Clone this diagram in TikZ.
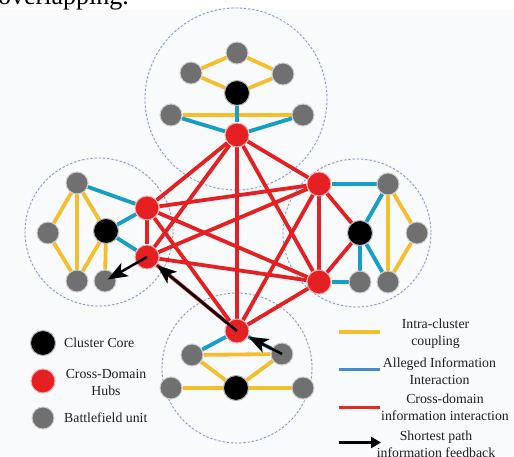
\documentclass[tikz,border=0pt]{standalone}
\usepackage{fontspec}
\setmainfont{Liberation Serif}
\usetikzlibrary{arrows.meta}
\definecolor{ured}{RGB}{228,32,34}
\definecolor{ugray}{RGB}{112,112,112}
\definecolor{uyellow}{RGB}{244,190,44}
\definecolor{ublue}{RGB}{22,158,196}
\definecolor{lblue}{RGB}{70,140,205}
\definecolor{cblue}{RGB}{95,165,215}
\definecolor{bgpale}{RGB}{249,250,252}
\pgfdeclarelayer{bg}
\pgfdeclarelayer{edges}
\pgfsetlayers{bg,edges,main}
\tikzset{
  gnode/.style={circle,fill=ugray,draw=ugray!35,line width=1pt,minimum size=22pt,inner sep=0pt},
  rnode/.style={circle,fill=ured,draw=ured!35,line width=1pt,minimum size=24pt,inner sep=0pt},
  bnode/.style={circle,fill=black,draw=black!30,line width=1pt,minimum size=25pt,inner sep=0pt},
  yedge/.style={draw=uyellow,line width=3.8pt},
  bedge/.style={draw=ublue,line width=3.8pt},
  redge/.style={draw=ured,line width=3.8pt},
  arr/.style={draw=black,line width=2.5pt,-{Stealth[length=20pt,width=15pt,inset=5pt]}},
  clu/.style={draw=cblue,line width=0.8pt,dash pattern=on 2.2pt off 2pt},
  lab/.style={font=\fontsize{13.8}{17}\selectfont,text=black!88,align=center,inner sep=0pt},
}
\begin{document}
\begin{tikzpicture}[x=1pt,y=-1pt]
\useasboundingbox (0,0) rectangle (514,457);
\begin{pgfonlayer}{bg}
\fill[bgpale] (0,10) rectangle (514,457);
\draw[draw=ured!7,line width=2.2pt] (236,99) circle[radius=91];
\draw[clu] (236,99) circle[radius=91];
\draw[draw=ured!7,line width=2.2pt] (99,232) circle[radius=74];
\draw[clu] (99,232) circle[radius=74];
\draw[draw=ured!7,line width=2.2pt] (357,233) circle[radius=74];
\draw[clu] (357,233) circle[radius=74];
\draw[draw=ured!7,line width=2.2pt] (237,368) circle[radius=75];
\draw[clu] (237,368) circle[radius=75];
\end{pgfonlayer}
\node[anchor=base west,inner sep=0pt,font=\fontsize{26}{30}\selectfont] (ovl) at (-2,5) {overlapping.};
% top cluster
\node[gnode] (tg1) at (237,53) {};
\node[gnode] (tg2) at (191,73) {};
\node[gnode] (tg3) at (283,74) {};
\node[bnode] (tb) at (237,93) {};
\node[gnode] (tg4) at (171,115) {};
\node[gnode] (tg5) at (303,115) {};
\node[rnode] (T) at (237,135) {};
% left cluster
\node[gnode] (lg1) at (77,183) {};
\node[gnode] (lg2) at (48,233) {};
\node[bnode] (lb) at (106,231) {};
\node[gnode] (lg3) at (77,281) {};
\node[gnode] (lg4) at (105,281) {};
\node[rnode] (L1) at (147,208) {};
\node[rnode] (L2) at (147,257) {};
% right cluster
\node[rnode] (R1) at (319,184) {};
\node[gnode] (rg1) at (388,184) {};
\node[bnode] (rb) at (360,233) {};
\node[gnode] (rg2) at (417,233) {};
\node[gnode] (rg3) at (360,282) {};
\node[gnode] (rg4) at (388,282) {};
\node[rnode] (R2) at (319,282) {};
% bottom cluster
\node[rnode] (B) at (237,331) {};
\node[gnode] (bg1) at (192,355) {};
\node[gnode] (bg2) at (282,354) {};
\node[bnode] (bb) at (236,388) {};
\node[gnode] (bg3) at (171,388) {};
\node[gnode] (bg4) at (303,388) {};
\begin{pgfonlayer}{edges}
% cross-domain (complete graph of hubs)
\foreach \a/\b in {T/L1,T/L2,T/R1,T/R2,T/B,L1/L2,L1/R1,L1/R2,L1/B,L2/R1,L2/R2,L2/B,R1/R2,R1/B,R2/B,R1/rb,R2/rb}
  \draw[redge] (\a) -- (\b);
% intra-cluster coupling
\foreach \a/\b in {tg1/tg2,tg1/tg3,tg2/tb,tg3/tb,tg4/tg5,
                   lg1/lg2,lg1/lg3,lg1/lb,lg2/lg3,lb/lg3,lb/lg4,
                   rg1/rg2,rg1/rg4,rg2/rg4,
                   bg1/bg2,bg1/bb,bg2/bb,bg3/bb,bb/bg4}
  \draw[yedge] (\a) -- (\b);
% alleged information interaction
\foreach \a/\b in {tb/T,tg4/T,tg5/T,lg1/L1,lb/L1,lb/L2,R1/rg1,rg1/rb,rb/rg3,rb/rg4,R2/rg3,B/bg1,B/bg2}
  \draw[bedge] (\a) -- (\b);
\end{pgfonlayer}
% shortest path arrows
\draw[arr] (B.center) -- (L2);
\draw[arr,shorten >=3pt] (L2.center) -- (lg4.center);
\draw[arr] (bg2.center) -- (B);
% legend left
\node[bnode] (kb) at (43,343) {};
\node[rnode] (kr) at (43,381) {};
\node[gnode] (kg) at (43,418) {};
\node[lab,anchor=west] (tkb) at (64,343) {Cluster Core};
\node[lab] (tkr) at (106,382.5) {Cross-Domain\\Hubs};
\node[lab,anchor=west] (tkg) at (64,418) {Battlefield unit};
% legend right
\coordinate (ya) at (339,332); \coordinate (yb) at (380,332);
\coordinate (ba) at (339,369.5); \coordinate (bb2) at (380,369.5);
\coordinate (ra) at (339,407.5); \coordinate (rb2) at (380,407.5);
\coordinate (ka) at (339,442.5); \coordinate (kb2) at (381,442.5);
\draw[draw=uyellow,line width=3.6pt] (ya) -- (yb);
\draw[draw=lblue,line width=3.6pt] (ba) -- (bb2);
\draw[draw=ured!90!orange,line width=3.6pt] (ra) -- (rb2);
\draw[draw=black,line width=3pt,-{Triangle[length=10pt,width=11pt]}] (ka) -- (kb2);
\node[lab] (ty) at (435.5,333.5) {Intra-cluster\\coupling};
\node[lab] (tbl) at (439.5,371.5) {Alleged Information\\Interaction};
\node[lab] (trd) at (445,407.5) {Cross-domain\\information interaction};
\node[lab] (tsh) at (436,444) {Shortest path\\information feedback};
\end{tikzpicture}
\end{document}
